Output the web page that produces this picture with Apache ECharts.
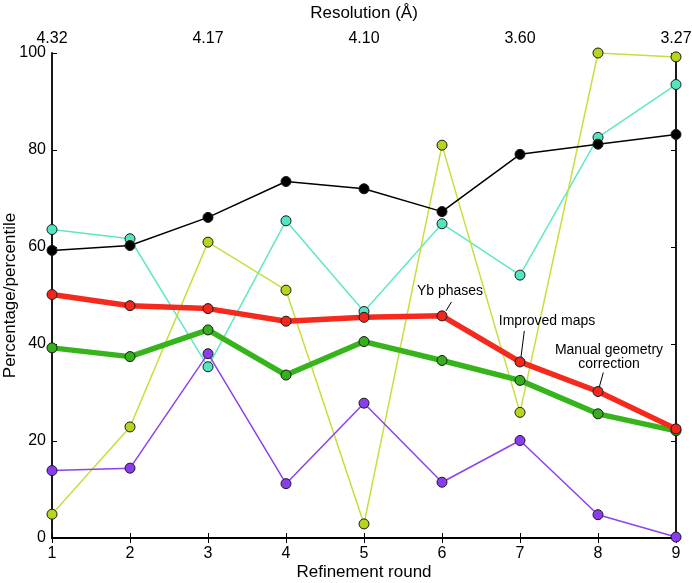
<!DOCTYPE html>
<html>
<head>
<meta charset="utf-8">
<script src="https://cdn.jsdelivr.net/npm/echarts@6/dist/echarts.min.js"></script>
<style>html,body{margin:0;padding:0;background:#fff}#c{width:692px;height:583px}</style>
</head>
<body>
<div id="c"></div>
<script>
const rounds = [1, 2, 3, 4, 5, 6, 7, 8, 9];
const resolutionLabels = ['4.32', '', '4.17', '', '4.10', '', '3.60', '', '3.27'];
const blackValues  = [59.3, 60.3, 66.1, 73.5, 72.0, 67.3, 79.1, 81.2, 83.2];
const cyanValues   = [63.6, 61.7, 35.3, 65.4, 46.7, 64.8, 54.2, 82.6, 93.5];
const yellowValues = [4.9, 22.9, 61.0, 51.1, 2.9, 81.0, 25.9, 100.0, 99.2];
const purpleValues = [13.9, 14.4, 38.0, 11.2, 27.8, 11.5, 20.1, 4.8, 0.2];
const greenValues  = [39.2, 37.4, 42.9, 33.6, 40.5, 36.6, 32.5, 25.6, 22.1];
const redValues    = [50.2, 47.9, 47.3, 44.7, 45.5, 45.8, 36.3, 30.2, 22.5];
const annotations = [
  { round: 6, text: 'Yb phases' },
  { round: 7, text: 'Improved maps' },
  { round: 8, text: 'Manual geometry\ncorrection' }
];

const FONT = '"Liberation Sans", Arial, sans-serif';
const pairs = vals => rounds.map((r, i) => [r, vals[i]]);

function mk(name, vals, color, fill, width, z) {
  return {
    name, type: 'line', data: pairs(vals), z,
    xAxisIndex: 0, yAxisIndex: 0,
    symbol: 'circle', symbolSize: 10,
    lineStyle: { color, width },
    itemStyle: { color: fill, borderColor: '#1a1a1a', borderWidth: 1 },
    emphasis: { disabled: true },
    animation: false
  };
}

const axisCommon = {
  axisLine: { show: true, lineStyle: { color: '#000', width: 1.8 } },
  axisTick: { show: true, inside: true, length: 5, lineStyle: { color: '#000', width: 1 } },
  splitLine: { show: false },
  nameMoveOverlap: false,
  axisLabel: { color: '#000', fontFamily: FONT, fontSize: 16 },
  nameTextStyle: { color: '#000', fontFamily: FONT, fontSize: 17 }
};

const chart = echarts.init(document.getElementById('c'), null, { renderer: 'canvas' });
chart.setOption({
  animation: false,
  backgroundColor: '#fff',
  grid: { left: 52, right: 16, top: 53, bottom: 45, containLabel: false, outerBoundsMode: 'none' },
  xAxis: [
    Object.assign({}, axisCommon, {
      type: 'value', position: 'bottom', min: 1, max: 9, interval: 1,
      name: 'Refinement round', nameLocation: 'middle', nameGap: 26,
      axisLabel: Object.assign({}, axisCommon.axisLabel, { margin: 8 })
    }),
    Object.assign({}, axisCommon, {
      type: 'value', position: 'top', min: 1, max: 9, interval: 1,
      name: 'Resolution (Å)', nameLocation: 'middle', nameGap: 31,
      axisLabel: Object.assign({}, axisCommon.axisLabel, {
        margin: 6,
        formatter: v => resolutionLabels[rounds.indexOf(v)] || ''
      })
    })
  ],
  yAxis: [
    Object.assign({}, axisCommon, {
      type: 'value', position: 'left', min: 0, max: 100, interval: 20,
      name: 'Percentage/percentile', nameLocation: 'middle', nameGap: 33,
      axisLabel: Object.assign({}, axisCommon.axisLabel, { margin: 6 })
    }),
    Object.assign({}, axisCommon, {
      type: 'value', position: 'right', min: 0, max: 100, interval: 20,
      axisLabel: { show: false }
    })
  ],
  series: [
    mk('cyan', cyanValues, '#5fe8c6', '#52e6bf', 1.5, 2),
    mk('yellow', yellowValues, '#c6df3c', '#b7d41e', 1.5, 3),
    mk('purple', purpleValues, '#8c42ee', '#8a3cf0', 1.5, 4),
    mk('black', blackValues, '#000', '#000', 1.5, 5),
    mk('green', greenValues, '#35b51b', '#35b01c', 5.5, 6),
    mk('red', redValues, '#f42a1f', '#f2261d', 5.5, 7)
  ]
});

// Annotations anchored to the red series points via the chart's own scales
const offsets = [
  { tx: 8, ty: -25, l1: [4, -5], l2: [9.5, -14] },
  { tx: 27, ty: -40.6, l1: [1, -5], l2: [4.3, -31] },
  { tx: 11, ty: -34.6, l1: [1.3, -4.5], l2: [5.3, -19] }
];
const graphics = [];
annotations.forEach((a, i) => {
  const idx = rounds.indexOf(a.round);
  const p = chart.convertToPixel({ xAxisIndex: 0, yAxisIndex: 0 }, [a.round, redValues[idx]]);
  const o = offsets[i];
  graphics.push({
    type: 'text', z: 100,
    x: p[0] + o.tx, y: p[1] + o.ty,
    style: { text: a.text, fill: '#000', font: '14px ' + FONT, align: 'center', verticalAlign: 'middle', lineHeight: 14 }
  });
  graphics.push({
    type: 'line', z: 100,
    shape: { x1: p[0] + o.l1[0], y1: p[1] + o.l1[1], x2: p[0] + o.l2[0], y2: p[1] + o.l2[1] },
    style: { stroke: '#000', lineWidth: 1 }
  });
});
chart.setOption({ graphic: graphics });
</script>
</body>
</html>
